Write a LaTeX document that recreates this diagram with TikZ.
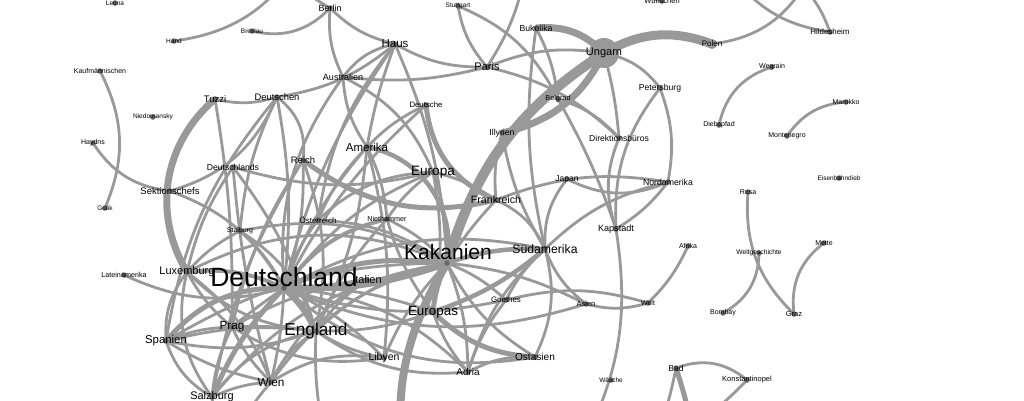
\documentclass[tikz,border=0pt]{standalone}
\usepackage{fontspec}
\setmainfont{Liberation Sans}
\definecolor{edgegrey}{RGB}{153,153,153}
\definecolor{dotgrey}{RGB}{105,105,105}

\begin{document}
\begin{tikzpicture}[x=1pt,y=-1pt]
    \tikzset{%
      dot/.style={circle, fill=dotgrey, inner sep=0pt, minimum
        width=5.5pt},
      bigdot/.style={circle, fill=edgegrey, inner sep=0pt, minimum
        width=#1},
      lnk/.style={draw=edgegrey, line width=2.8pt},
      lbl/.style={inner sep=0pt, text=black},
      fs/.style={font=\fontsize{#1}{#1}\selectfont},
    }
    \useasboundingbox (0,0) rectangle (1024,400);
    \clip (0,0) rectangle (1024,400);
    % places
    \coordinate (Leo) at (115,3);
    \coordinate (Han) at (174,41);
    \coordinate (Bre) at (252,31);
    \coordinate (Ber) at (330,8);
    \coordinate (Kau) at (100,71);
    \coordinate (Nie) at (153,117);
    \coordinate (Hay) at (93,143);
    \coordinate (Tuz) at (215,99);
    \coordinate (Deu) at (277,97);
    \coordinate (Aus) at (343,77);
    \coordinate (Hau) at (395,44);
    \coordinate (Stu) at (458,6);
    \coordinate (Buk) at (536,28);
    \coordinate (Ung) at (604,53);
    \coordinate (Par) at (487,67);
    \coordinate (Bel) at (558,99);
    \coordinate (Dsc) at (426,105);
    \coordinate (Ill) at (502,133);
    \coordinate (Ame) at (367,147);
    \coordinate (Eur) at (433,172);
    \coordinate (Rei) at (303,160);
    \coordinate (Dls) at (233,167);
    \coordinate (Sek) at (170,191);
    \coordinate (Got) at (105,208);
    \coordinate (Sta) at (240,231);
    \coordinate (Ost) at (318,220);
    \coordinate (Nih) at (387,219);
    \coordinate (Fra) at (496,200);
    \coordinate (Jap) at (567,179);
    \coordinate (Nam) at (668,182);
    \coordinate (Dir) at (619,138);
    \coordinate (Pet) at (660,88);
    \coordinate (Pol) at (712,44);
    \coordinate (Hil) at (830,32);
    \coordinate (Wue) at (662,1);
    \coordinate (Weg) at (772,67);
    \coordinate (Dpf) at (719,125);
    \coordinate (Mar) at (846,102);
    \coordinate (Mon) at (787,136);
    \coordinate (Eis) at (839,178);
    \coordinate (Ros) at (748,192);
    \coordinate (Kap) at (616,229);
    \coordinate (Sud) at (545,249);
    \coordinate (Kak) at (447,263);
    \coordinate (Ita) at (367,280);
    \coordinate (Dtl) at (284,288);
    \coordinate (Lux) at (187,272);
    \coordinate (Lat) at (124,275);
    \coordinate (Afr) at (688,246);
    \coordinate (Wel) at (759,253);
    \coordinate (Met) at (824,243);
    \coordinate (Bom) at (723,313);
    \coordinate (Gra) at (794,314);
    \coordinate (Wlt) at (648,303);
    \coordinate (Asi) at (586,304);
    \coordinate (Goe) at (506,300);
    \coordinate (Eps) at (433,312);
    \coordinate (Eng) at (316,331);
    \coordinate (Pra) at (232,327);
    \coordinate (Spa) at (166,341);
    \coordinate (Lib) at (384,358);
    \coordinate (Osa) at (535,357);
    \coordinate (Adr) at (468,372);
    \coordinate (Wie) at (271,382);
    \coordinate (Sal) at (212,397);
    \coordinate (Was) at (611,380);
    \coordinate (Bad) at (676,368);
    \coordinate (Kon) at (747,380);
    % ends outside the frame
    \coordinate (o1) at (300,-40);
    \coordinate (o2) at (290,-25);
    \coordinate (o4) at (525,-25);
    \coordinate (o5) at (805,-15);
    \coordinate (o6) at (790,-25);
    \coordinate (o7) at (735,-20);
    \coordinate (o8) at (420,520);
    \coordinate (o9) at (335,470);
    \coordinate (o10) at (580,450);
    \coordinate (o11) at (695,450);
    \coordinate (o12) at (665,440);
    \coordinate (o13) at (225,460);
    \coordinate (o15) at (600,-25);
    \coordinate (o16) at (655,440);

    % links bending right
    \foreach \p/\q/\ang in {Han/o1/25, Bre/Ber/30, Ber/Hau/15, Ber/Aus/15,
      Aus/Ame/15, Aus/Dtl/20, Tuz/Deu/15, Deu/Hau/15, Sek/Deu/25, Hay/Sek/25,
      Deu/Sta/10, Deu/Spa/15, Dls/Eur/15, Dls/Wie/5, Dls/Lux/10, Rei/Pra/10,
      Rei/Sal/10, Hau/Ame/5, Hau/Aus/20, Hau/Dtl/10, Hau/Par/15, Hau/Ost/15,
      Aus/Par/10, Stu/Par/15, Buk/Sud/10, Pet/Kap/20, Dir/Kap/20, Jap/Nam/25,
      Jap/Sud/20, Nam/Sud/15, Fra/Kak/5, Fra/Eur/10, Ill/Sud/10, Ill/Fra/10,
      Dsc/Ame/10, Dsc/Dtl/10, Eur/Dtl/15, Eur/Nih/10, Eur/Ost/20, Ame/Dtl/10,
      Ame/Ost/10, Sta/Lux/10, Ost/Dtl/10, Nih/Dtl/20, Nih/Eps/10, Nih/Eng/10,
      Lat/Dtl/20, Dtl/Sek/20, Dtl/Osa/25, Dtl/Goe/15, Dtl/Asi/20, Lux/Spa/20,
      Lux/Eng/20, Lux/Pra/10, Lux/Sal/25, Spa/Eng/15, Spa/Wie/10, Spa/Sal/20,
      Eng/Lib/10, Eng/Wie/15, Eng/Eps/10, Eng/Adr/20, Eng/o9/10, Wie/o13/10,
      Pra/Wie/10, Pra/Lib/20, Kak/Osa/15, Kak/Lib/10, Eps/Adr/10, Sud/Goe/10,
      Sud/Asi/15, Asi/Wlt/15, Wlt/Afr/10, Weg/Dpf/30, Mar/Mon/25, Ros/Gra/25,
      Met/Gra/30, Pol/o5/25, o7/Hil/20, Dtl/Pra/2, Sal/o13/5}
      \draw[lnk] (\p) to[bend right=\ang] (\q);
    % links bending left
    \foreach \p/\q/\ang in {Ber/o2/10, Kau/Got/25, Tuz/Pra/5, Deu/Rei/30,
      Deu/Dtl/8, Dls/Eng/10, Rei/Dtl/10, Rei/Eng/15, Hau/Kak/10, o4/Par/10,
      Stu/Bel/20, Par/Ung/15, Par/Dir/15, Bel/Kap/5, Buk/Bel/10, Ung/Pet/20,
      Ung/Dir/5, Pet/Nam/15, Bel/Dir/15, Fra/Nam/15, Nam/Kap/10, Kap/o10/18,
      Fra/Sud/20, Eur/Kak/10, Eur/Eps/10, Ame/Eng/10, Ame/Nih/10, Ame/Lib/10,
      Sta/Dtl/10, Sta/Eng/20, Ost/Kak/15, Lux/Kak/25, Sta/Kak/20, Nih/Kak/10,
      Dtl/Wie/5, Dtl/Lib/10, Dtl/Eps/10, Dtl/Adr/20, Dtl/Sud/20, Lux/Wie/15,
      Spa/Eng/10, Spa/Pra/10, Spa/Kak/15, Sal/Pra/10, Sal/Eng/20, Sal/Wie/10,
      Sal/Kak/20, Eng/Kak/15, Eng/Ita/10, Wie/Kak/20, Wie/Lib/20, Wie/Ita/15,
      Pra/Eng/5, Pra/Ita/10, Kak/Adr/10, Kak/Goe/10, Kak/Asi/10, Adr/Osa/15,
      Adr/Sud/15, Adr/Goe/10, Sud/Osa/20, Goe/Wlt/15, Wel/Bom/30, o6/Hil/15,
      Wue/o15/10, Bad/Kon/30, Kon/o12/10, Bad/o16/5, Aus/Eur/20}
      \draw[lnk] (\p) to[bend left=\ang] (\q);
    % heavy links
    \foreach \p/\q/\ang/\lw in {Tuz/Lux/40/7, Rei/Fra/25/5, Dsc/Fra/30/5,
      Dtl/Kak/10/7, Dtl/Ita/5/5, Kak/Eps/10/5, Eps/Sud/10/4.5, Eps/Osa/20/5,
      Kak/o8/25/8}
      \draw[lnk, line width=\lw pt] (\p) to[bend right=\ang] (\q);
    \foreach \p/\q/\ang/\lw in {Ame/Kak/45/4.5, Buk/Ung/25/7, Ung/Pol/25/9,
      Ung/Ill/25/7, Kak/Ung/20/10, Dtl/Kak/15/5, Dtl/Eng/10/6, Spa/Dtl/25/5,
      Lux/Dtl/15/4, Sal/Dtl/10/5, Kak/Sud/10/4.5, Bad/o11/5/5, Dtl/Nih/20/4}
      \draw[lnk, line width=\lw pt] (\p) to[bend left=\ang] (\q);

    % dots
    \node[bigdot=30pt] (bUng) at (Ung) {};
    \node[bigdot=10pt] (bPol) at (Pol) {};
    \foreach \nm in {Leo,Han,Bre,Ber,Kau,Nie,Hay,Tuz,Deu,Aus,Hau,Stu,Buk,
      Par,Bel,Dsc,Ill,Ame,Eur,Rei,Dls,Sek,Got,Sta,Ost,Nih,Fra,Jap,Nam,Dir,
      Pet,Hil,Wue,Weg,Dpf,Mar,Mon,Eis,Ros,Kap,Sud,Kak,Ita,Dtl,Lux,Lat,Afr,
      Wel,Met,Bom,Gra,Wlt,Asi,Goe,Eps,Eng,Pra,Spa,Lib,Osa,Adr,Wie,Sal,Was,
      Bad,Kon}
      \node[dot] (d\nm) at (\nm) {};

    % labels
    \foreach \nm/\txt/\sz in {Leo/Leona/6.5, Han/Hand/6.5, Bre/Breslau/6.5,
      Ber/Berlin/9, Kau/Kaufmännischen/7, Nie/Niedomansky/6.6, Hay/Haydns/7,
      Tuz/Tuzzi/9.5, Deu/Deutschen/9.4, Aus/Australien/9, Hau/Haus/11.5,
      Stu/Stuttgart/6.5, Buk/Bukolika/8.7, Ung/Ungarn/11, Par/Paris/11,
      Bel/Belgrad/7.3, Dsc/Deutsche/7.8, Ill/Illyrien/8.7, Ame/Amerika/11.5,
      Eur/Europa/13.6, Rei/Reich/9.4, Dls/Deutschlands/8.6,
      Sek/Sektionschefs/9.5, Got/Gotik/6.5, Sta/Stalburg/7,
      Ost/Österreich/8, Nih/Niethammer/7.2, Fra/Frankreich/10.6,
      Jap/Japan/8.5, Nam/Nordamerika/8.7, Dir/Direktionsbüros/8.6,
      Pet/Petersburg/8.6, Pol/Polen/8, Hil/Hildesheim/7.9, Wue/Wünschen/7.5,
      Weg/Wegrain/7, Dpf/Diebspfad/7, Mar/Marokko/7, Mon/Montenegro/7,
      Eis/Eisenbahndieb/6.5, Ros/Rosa/7, Kap/Kapstadt/9.1,
      Sud/Südamerika/12.2, Ita/Italien/11, Lux/Luxemburg/11,
      Lat/Lateinamerika/7.2, Afr/Afrika/7, Wel/Weltgeschichte/6.7,
      Met/Mette/7, Bom/Bombay/7, Gra/Graz/7.5, Wlt/Welt/7, Asi/Asien/7.5,
      Goe/Goethes/7.9, Eps/Europas/13.4, Eng/England/17.2, Pra/Prag/11.8,
      Spa/Spanien/11.4, Lib/Libyen/10.5, Osa/Ostasien/10.1, Adr/Adria/9.9,
      Wie/Wien/11.8, Sal/Salzburg/11, Was/Wäsche/6.5, Bad/Bad/8.5,
      Kon/Konstantinopel/7.5}
      \node[lbl, fs=\sz] (t\nm) at (\nm) {\txt};
    \node[lbl, fs=21] (tKak) at (448,252) {Kakanien};
    \node[lbl, fs=26.5] (tDtl) at (284,277) {Deutschland};
\end{tikzpicture}
\end{document}
